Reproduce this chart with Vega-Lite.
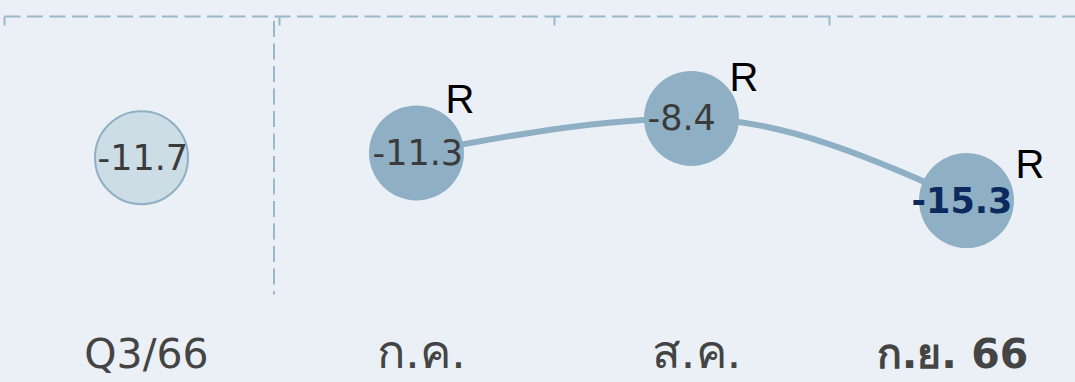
{
  "$schema": "https://vega.github.io/schema/vega-lite/v6.json",
  "width": 1071,
  "height": 300,
  "autosize": {"type": "none"},
  "padding": {"left": 4, "top": 16, "right": 0, "bottom": 66},
  "background": "#eaf0f5",
  "config": {"view": {"stroke": null}, "axis": {"grid": false}},
  "data": {
    "values": [
      {"label": "Q3/66", "value": -11.7, "kind": "quarter"},
      {"label": "ก.ค.", "value": -11.3, "kind": "month"},
      {"label": "ส.ค.", "value": -8.4, "kind": "month"},
      {"label": "ก.ย. 66", "value": -15.3, "kind": "month"}
    ]
  },
  "layer": [
    {
      "transform": [{"filter": "datum.label === 'ก.ค.'"}],
      "mark": {"type": "rule", "stroke": "#9ab8ca", "strokeWidth": 2, "strokeDash": [16, 6.5], "xOffset": -5},
      "encoding": {
        "x": {
          "field": "label", "type": "nominal", "bandPosition": 0,
          "scale": {"domain": ["Q3/66", "ก.ค.", "ส.ค.", "ก.ย. 66"], "range": [0, 1100], "paddingInner": 0, "paddingOuter": 0},
          "axis": {
            "orient": "top", "labels": false, "title": null,
            "domainColor": "#9ab8ca", "domainWidth": 2, "domainDash": [16, 6.5],
            "tickColor": "#9ab8ca", "tickWidth": 2, "tickSize": -9, "tickBand": "extent"
          }
        },
        "y": {"datum": -0.22, "type": "quantitative", "scale": {"domain": [-25, 0.2], "nice": false}, "axis": null},
        "y2": {"datum": -23.2}
      }
    },
    {
      "transform": [{"filter": "datum.kind === 'month'"}],
      "mark": {"type": "line", "interpolate": "monotone", "stroke": "#8fb0c4", "strokeWidth": 6},
      "encoding": {
        "x": {
          "field": "label", "type": "nominal",
          "scale": {"domain": ["Q3/66", "ก.ค.", "ส.ค.", "ก.ย. 66"], "range": [0, 1100], "paddingInner": 0, "paddingOuter": 0},
          "axis": {
            "orient": "bottom", "title": null, "domain": false, "ticks": false,
            "labelFont": "DejaVu Sans", "labelColor": "#444444",
            "labelFontSize": {"condition": {"test": "datum.value === 'ก.ค.' || datum.value === 'ส.ค.'", "value": 47}, "value": 41},
            "labelFontWeight": {"condition": {"test": "datum.value === 'ก.ย. 66'", "value": "bold"}, "value": "normal"},
            "labelOffset": {"condition": {"test": "datum.value === 'ก.ย. 66'", "value": -14}, "value": 5},
            "labelBaseline": "alphabetic", "labelPadding": 51, "labelAngle": 0
          }
        },
        "y": {"field": "value", "type": "quantitative", "scale": {"domain": [-25, 0.2], "nice": false}, "axis": null}
      }
    },
    {
      "transform": [{"filter": "datum.kind === 'quarter'"}],
      "mark": {"type": "circle", "size": 8649, "fill": "#cddde6", "stroke": "#8fb0c4", "strokeWidth": 2, "opacity": 1},
      "encoding": {
        "x": {"field": "label", "type": "nominal", "axis": null},
        "y": {"field": "value", "type": "quantitative", "axis": null}
      }
    },
    {
      "transform": [{"filter": "datum.kind === 'month'"}],
      "mark": {"type": "circle", "size": 9025, "fill": "#8fb0c4", "opacity": 1},
      "encoding": {
        "x": {"field": "label", "type": "nominal", "axis": null},
        "y": {"field": "value", "type": "quantitative", "axis": null}
      }
    },
    {
      "transform": [{"filter": "datum.label !== 'ก.ย. 66'"}],
      "mark": {"type": "text", "font": "DejaVu Sans", "fontSize": 35, "color": "#3b3b3b", "align": "left", "baseline": "middle", "dx": -44, "dy": 1},
      "encoding": {
        "x": {"field": "label", "type": "nominal", "axis": null},
        "y": {"field": "value", "type": "quantitative", "axis": null},
        "text": {"field": "value", "type": "nominal"}
      }
    },
    {
      "transform": [{"filter": "datum.label === 'ก.ย. 66'"}],
      "mark": {"type": "text", "font": "DejaVu Sans", "fontSize": 35, "fontWeight": "bold", "color": "#0c2a5e", "align": "left", "baseline": "middle", "dx": -55, "dy": 1},
      "encoding": {
        "x": {"field": "label", "type": "nominal", "axis": null},
        "y": {"field": "value", "type": "quantitative", "axis": null},
        "text": {"field": "value", "type": "nominal"}
      }
    },
    {
      "transform": [{"filter": "datum.kind === 'month'"}],
      "mark": {
        "type": "text", "text": "R", "font": "Liberation Sans", "fontSize": 40, "color": "#000000",
        "align": "left", "baseline": "alphabetic",
        "dx": {"expr": "datum.label === 'ก.ค.' ? 29 : datum.label === 'ส.ค.' ? 38 : 49"},
        "dy": {"expr": "datum.label === 'ก.ค.' ? -40 : datum.label === 'ส.ค.' ? -27 : -23"}
      },
      "encoding": {
        "x": {"field": "label", "type": "nominal", "axis": null},
        "y": {"field": "value", "type": "quantitative", "axis": null}
      }
    }
  ]
}
